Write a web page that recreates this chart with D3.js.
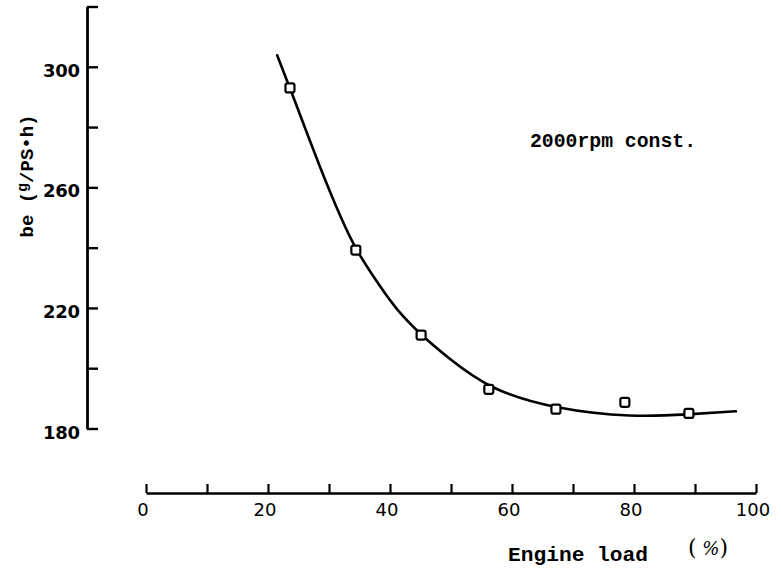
<!DOCTYPE html>
<html>
<head>
<meta charset="utf-8">
<script src="https://cdn.jsdelivr.net/npm/d3@7"></script>
<style>
  body { margin: 0; background: #fff; }
</style>
</head>
<body>
<div id="wrapper"></div>
<script>
// measured points (engine load %, be g/PS.h)
const loadPoints = [23.6, 34.4, 45.1, 56.2, 67.2, 78.5, 89.0]
const bePoints = [293.0, 239.2, 211.0, 193.0, 186.4, 188.7, 185.0]

// fitted curve
const curveLoad = [21.5, 23.6, 28.8, 32.1, 34.4, 38.4, 41.1, 45.1, 49.3, 56.2, 67.2, 79.8, 89.0, 96.7]
const curveBe = [303.8, 293.0, 265.0, 249.2, 239.2, 227.0, 219.3, 211.0, 203.8, 193.0, 186.4, 183.7, 184.7, 185.7]

const yTicks = [180, 200, 220, 240, 260, 280, 300, 320]
const yTickLabels = [180, 220, 260, 300]
const xTicks = [0, 10, 20, 30, 40, 50, 60, 70, 80, 90, 100]
const xTickLabels = [0, 20, 40, 60, 80, 100]

function drawChart() {

  // 1. Access data
  const points = loadPoints.map((x, i) => ({x, y: bePoints[i]}))
  const curve = curveLoad.map((x, i) => ({x, y: curveBe[i]}))
  const xAccessor = d => d.x
  const yAccessor = d => d.y

  // 2. Create chart dimensions
  let dimensions = {
    width: 781,
    height: 571,
  }

  // 3. Draw canvas
  const wrapper = d3.select("#wrapper")
    .append("svg")
      .attr("width", dimensions.width)
      .attr("height", dimensions.height)

  const bounds = wrapper.append("g")

  // 4. Create scales
  const xScale = d3.scaleLinear()
    .domain([0, 100])
    .range([146, 756])
  const yScale = d3.scaleLinear()
    .domain([180, 320])
    .range([428.5, 6.5])

  const line = d3.line()
    .curve(d3.curveBasis)
    .x(d => xScale(xAccessor(d)))
    .y(d => yScale(yAccessor(d)))

  // 5. Draw data
  bounds.append("path")
    .datum(curve)
    .attr("d", line)
    .attr("fill", "none")
    .attr("stroke", "#000")
    .attr("stroke-width", 2.6)
    .attr("stroke-linecap", "round")

  bounds.selectAll(".pt")
    .data(points)
    .join("rect")
      .attr("class", "pt")
      .attr("x", d => xScale(xAccessor(d)) - 4.5)
      .attr("y", d => yScale(yAccessor(d)) - 4.5)
      .attr("width", 9)
      .attr("height", 9)
      .attr("rx", 2)
      .attr("fill", "#fff")
      .attr("stroke", "#000")
      .attr("stroke-width", 2.2)

  // 6. Draw peripherals
  // y axis
  const yAxis = d3.axisRight(yScale)
    .tickValues(yTicks)
    .tickSize(11)
    .tickSizeOuter(0)
    .tickFormat("")
  const yAxisGroup = bounds.append("g")
    .attr("transform", "translate(87,0)")
    .call(yAxis)
  yAxisGroup.select(".domain").attr("stroke-width", 2.8)
  yAxisGroup.selectAll(".tick line").attr("stroke-width", 2.4)

  bounds.selectAll(".ylab")
    .data(yTickLabels)
    .join("text")
      .attr("class", "ylab")
      .attr("x", 80)
      .attr("y", d => yScale(d) + 10)
      .attr("text-anchor", "end")
      .style("font-family", "DejaVu Sans")
      .style("font-weight", "bold")
      .style("font-size", "18px")
      .attr("textLength", 37)
      .text(d => d)

  // x axis
  const xAxis = d3.axisTop(xScale)
    .tickValues(xTicks)
    .tickSize(9)
    .tickSizeOuter(0)
    .tickFormat("")
  const xAxisGroup = bounds.append("g")
    .attr("transform", "translate(0,493)")
    .call(xAxis)
  xAxisGroup.select(".domain").attr("stroke-width", 2.4)
  xAxisGroup.selectAll(".tick line").attr("stroke-width", 2.2)

  bounds.selectAll(".xlab")
    .data(xTickLabels)
    .join("text")
      .attr("class", "xlab")
      .attr("x", d => xScale(d) - 3)
      .attr("y", 516)
      .attr("text-anchor", "middle")
      .style("font-family", "DejaVu Sans")
      .style("font-size", "18px")
      .text(d => d)

  // axis titles
  bounds.append("text")
    .attr("x", 508)
    .attr("y", 561)
    .attr("textLength", 140)
    .attr("lengthAdjust", "spacingAndGlyphs")
    .style("font-family", "Liberation Mono")
    .style("font-weight", "bold")
    .style("font-size", "21px")
    .text("Engine load")

  const pct = bounds.append("text")
    .attr("x", 688)
    .attr("y", 555)
    .style("font-family", "DejaVu Serif")
    .style("font-size", "22px")
  pct.append("tspan").text("(")
  pct.append("tspan").style("font-style", "italic").style("font-size", "18px").text(" %")
  pct.append("tspan").text(")")

  const yTitle = bounds.append("text")
    .attr("transform", "translate(33,176) rotate(-90)")
    .attr("text-anchor", "middle")
    .style("font-family", "Liberation Mono")
    .style("font-weight", "bold")
    .style("font-size", "19px")
  yTitle.append("tspan").text("be (")
  yTitle.append("tspan").attr("dy", -6).style("font-size", "15px").text("g")
  yTitle.append("tspan").attr("dy", 6).text("/PS•h)")

  bounds.append("text")
    .attr("x", 530)
    .attr("y", 147)
    .attr("textLength", 166)
    .attr("lengthAdjust", "spacingAndGlyphs")
    .style("font-family", "Liberation Mono")
    .style("font-weight", "bold")
    .style("font-size", "20px")
    .text("2000rpm const.")
}

drawChart()
</script>
</body>
</html>
